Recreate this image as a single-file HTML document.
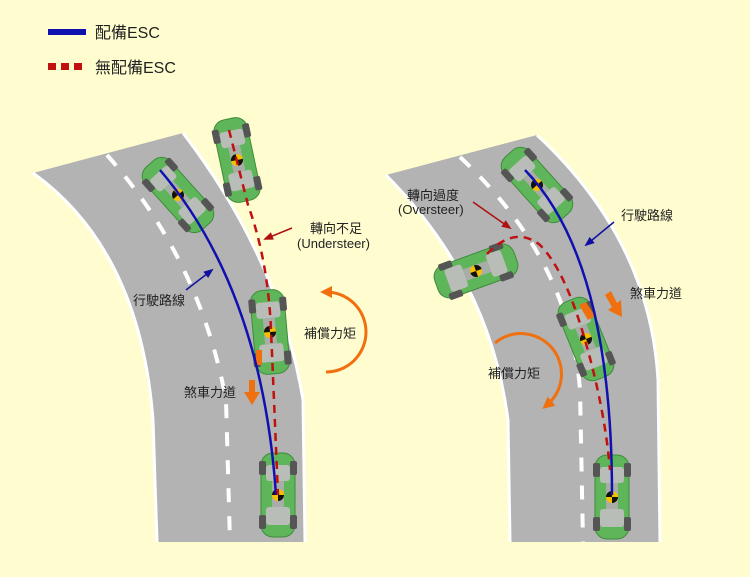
<!DOCTYPE html>
<html><head><meta charset="utf-8"><style>
body{margin:0;background:#fffdd0;}
svg{display:block}
text{font-family:"Liberation Sans","Noto Sans CJK TC",sans-serif;fill:#222;}
</style></head><body>
<svg width="750" height="577" viewBox="0 0 750 577" xmlns="http://www.w3.org/2000/svg">
<defs>
<g id="car">
<rect x="-17" y="-42" width="34" height="84" rx="12" fill="#5fb55a" stroke="#3e8c3a" stroke-width="1"/>
<rect x="-12" y="-30" width="24" height="16" rx="3" fill="#b9bdb8"/>
<rect x="-12" y="12" width="24" height="18" rx="3" fill="#b9bdb8"/>
<rect x="-6" y="-14" width="12" height="26" fill="#a9ada8"/>
<rect x="-19" y="-34" width="7" height="14" rx="2" fill="#555"/>
<rect x="12" y="-34" width="7" height="14" rx="2" fill="#555"/>
<rect x="-19" y="20" width="7" height="14" rx="2" fill="#555"/>
<rect x="12" y="20" width="7" height="14" rx="2" fill="#555"/>
<circle cx="0" cy="0" r="6" fill="#f5c000"/>
<path d="M0 0 L6 0 A6 6 0 0 1 0 6 Z M0 0 L-6 0 A6 6 0 0 1 0 -6 Z" fill="#111"/>
</g>
<marker id="ab" markerUnits="userSpaceOnUse" markerWidth="10" markerHeight="10" refX="8" refY="5" orient="auto"><path d="M0,1 L10,5 L0,9 Z" fill="#1010a0"/></marker>
<marker id="ar" markerUnits="userSpaceOnUse" markerWidth="10" markerHeight="10" refX="8" refY="5" orient="auto"><path d="M0,1 L10,5 L0,9 Z" fill="#b01010"/></marker>
<marker id="ao" markerUnits="userSpaceOnUse" markerWidth="12" markerHeight="12" refX="6" refY="6" orient="auto"><path d="M0,0 L12,6 L0,12 Z" fill="#f07010"/></marker>
<marker id="aos" markerUnits="userSpaceOnUse" markerWidth="12" markerHeight="12" refX="6" refY="6" orient="auto"><path d="M12,0 L0,6 L12,12 Z" fill="#f07010"/></marker>
</defs>

<!-- legend -->
<line x1="48" y1="32" x2="86" y2="32" stroke="#1010b0" stroke-width="6"/>
<text x="95" y="38" font-size="16">配備ESC</text>
<rect x="48" y="63" width="8" height="7" fill="#c01010"/>
<rect x="61" y="63" width="8" height="7" fill="#c01010"/>
<rect x="74" y="63" width="8" height="7" fill="#c01010"/>
<text x="95" y="73" font-size="16">無配備ESC</text>

<!-- left road -->
<path d="M33,173 L183,133 Q280,260 303,400 L305,542 L157,542 L153,420 Q140,250 33,173 Z" fill="#b3b3b3"/>
<path d="M183,133 Q280,260 303,400 L305,542" fill="none" stroke="#fff" stroke-width="3"/>
<path d="M33,173 Q140,250 153,420 L157,542" fill="none" stroke="#fff" stroke-width="3"/>
<path d="M107,155 Q200,260 226,400 L230,542" fill="none" stroke="#fff" stroke-width="4" stroke-dasharray="14,14"/>

<!-- right road -->
<path d="M386,175 L537,135 Q650,240 658,380 L660,542 L510,542 L508,420 Q490,280 386,175 Z" fill="#b3b3b3"/>
<path d="M537,135 Q650,240 658,380 L660,542" fill="none" stroke="#fff" stroke-width="3"/>
<path d="M386,175 Q490,280 508,420 L510,542" fill="none" stroke="#fff" stroke-width="3"/>
<path d="M460,157 Q570,260 580,390 L583,542" fill="none" stroke="#fff" stroke-width="4" stroke-dasharray="14,14"/>

<!-- left cars -->
<use href="#car" transform="translate(178,195) rotate(-42)"/>
<use href="#car" transform="translate(237,160) rotate(-12)"/>
<use href="#car" transform="translate(270,332) rotate(-5)"/>
<use href="#car" transform="translate(278,495)"/>
<rect x="256" y="350" width="6" height="15" fill="#f07010"/>

<!-- right cars -->
<use href="#car" transform="translate(537,185) rotate(-42)"/>
<use href="#car" transform="translate(476,271) rotate(70)"/>
<use href="#car" transform="translate(586,339) rotate(-22)"/>
<use href="#car" transform="translate(612,497)"/>
<path d="M579,305 L586,302 L595,316 L588,320 Z" fill="#f07010"/>

<!-- left paths -->
<path d="M160,170 Q262,290 276,495" fill="none" stroke="#1010b0" stroke-width="2.5"/>
<path d="M229,130 L248,205 Q268,260 271,330 L278,495" fill="none" stroke="#c01010" stroke-width="2.5" stroke-dasharray="8,6"/>
<!-- right paths -->
<path d="M525,170 Q612,260 612,495" fill="none" stroke="#1010b0" stroke-width="2.5"/>
<path d="M487,254 Q515,225 540,245 Q565,270 585,340 Q605,410 610,470" fill="none" stroke="#c01010" stroke-width="2.5" stroke-dasharray="8,6"/>

<!-- orange torques -->
<path d="M326,292 A40,40 0 0 1 326,372" fill="none" stroke="#f07010" stroke-width="3" marker-start="url(#aos)"/>
<path d="M495,343 A40,40 0 0 1 547,405" fill="none" stroke="#f07010" stroke-width="3" marker-end="url(#ao)"/>
<!-- brake arrows -->
<path d="M249,380 L255,380 L255,392 L260,392 L252,405 L244,392 L249,392 Z" fill="#f07010"/>
<path d="M605,295 L611,291 L617,303 L621,300 L622,317 L608,310 L612,307 Z" fill="#f07010"/>

<!-- labels left -->
<text x="310" y="233" font-size="13">轉向不足</text>
<text x="297" y="248" font-size="13">(Understeer)</text>
<line x1="292" y1="228" x2="265" y2="239" stroke="#b01010" stroke-width="1.5" marker-end="url(#ar)"/>
<text x="133" y="305" font-size="13">行駛路線</text>
<line x1="186" y1="290" x2="212" y2="270" stroke="#1010a0" stroke-width="1.5" marker-end="url(#ab)"/>
<text x="304" y="338" font-size="13">補償力矩</text>
<text x="184" y="397" font-size="13">煞車力道</text>

<!-- labels right -->
<text x="407" y="200" font-size="13">轉向過度</text>
<text x="398" y="214" font-size="13">(Oversteer)</text>
<line x1="473" y1="202" x2="510" y2="228" stroke="#b01010" stroke-width="1.5" marker-end="url(#ar)"/>
<text x="621" y="220" font-size="13">行駛路線</text>
<line x1="614" y1="222" x2="586" y2="245" stroke="#1010a0" stroke-width="1.5" marker-end="url(#ab)"/>
<text x="630" y="298" font-size="13">煞車力道</text>
<text x="488" y="378" font-size="13">補償力矩</text>
</svg>
</body></html>
